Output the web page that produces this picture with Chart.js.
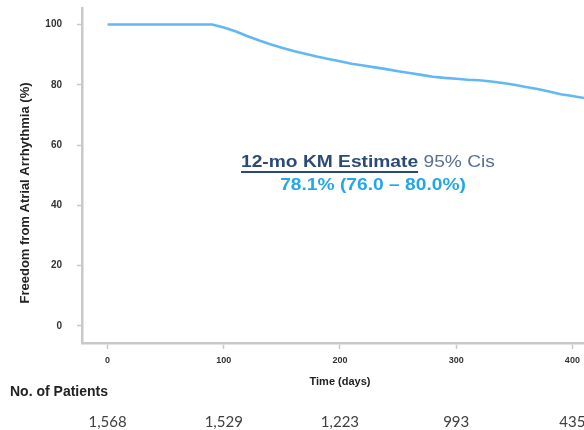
<!DOCTYPE html>
<html>
<head>
<meta charset="utf-8">
<script src="https://cdn.jsdelivr.net/npm/chart.js@4"></script>
<style>
  html, body { margin: 0; padding: 0; background: #fff; }
  #wrap { position: relative; width: 584px; height: 430px; overflow: hidden; }
</style>
</head>
<body>
<div id="wrap"><canvas id="km" width="584" height="430"></canvas></div>
<script>
//-----------------------------------------
//  DATA
//-----------------------------------------

const days = [0, 90, 100, 110, 120, 130, 140, 150, 160, 170, 180, 190, 200, 210, 220, 230, 240,
              250, 260, 270, 280, 290, 300, 310, 320, 330, 340, 350, 360, 370, 380, 390, 400, 410];
const freedom = [100, 100, 99.0, 97.8, 96.2, 94.8, 93.5, 92.3, 91.2, 90.3, 89.4, 88.6, 87.8, 87.0,
                 86.4, 85.8, 85.2, 84.5, 83.9, 83.3, 82.7, 82.3, 82.0, 81.7, 81.5, 81.1, 80.6,
                 80.0, 79.3, 78.6, 77.8, 76.9, 76.3, 75.6];

const xTicks = [0, 100, 200, 300, 400];
const yTicks = [0, 20, 40, 60, 80, 100];

// number at risk row
const riskDays = [0, 100, 200, 300, 400];
const riskCounts = ["1,568", "1,529", "1,223", "993", "435"];

const estimateLabel = "12-mo KM Estimate";
const ciLabel = "95% Cis";
const estimateValue = "78.1% (76.0 \u2013 80.0%)";

//-----------------------------------------
//  EXTRA TEXT (titles, annotation, risk table)
//-----------------------------------------

const axisGrey = "#c9c9c9";
const sans = "'Liberation Sans', Arial, sans-serif";

const textPlugin = {
    id: "kmText",
    afterDraw(chart) {
        const ctx = chart.ctx;
        const x = chart.scales.x;
        ctx.save();

        // y axis title
        ctx.save();
        ctx.translate(25, 193);
        ctx.rotate(-Math.PI / 2);
        ctx.font = "bold 13px " + sans;
        ctx.fillStyle = "#222";
        ctx.textAlign = "center";
        ctx.textBaseline = "middle";
        ctx.fillText("Freedom from Atrial Arrhythmia (%)", 0, 0);
        ctx.restore();

        // x axis title
        ctx.font = "bold 11px 'Liberation Sans Narrow', 'Arial Narrow', " + sans;
        ctx.fillStyle = "#222";
        ctx.textAlign = "center";
        ctx.textBaseline = "middle";
        ctx.fillText("Time (days)", 340, 382);

        // risk table
        ctx.font = "bold 14px " + sans;
        ctx.textAlign = "left";
        ctx.fillText("No. of Patients", 10, 392);

        ctx.font = "15px Lato, 'Open Sans', sans-serif";
        ctx.fillStyle = "#404040";
        ctx.textAlign = "center";
        riskDays.forEach((d, i) => {
            ctx.fillText(riskCounts[i], x.getPixelForValue(d), 422);
        });

        // annotation (source text is a bit stretched horizontally)
        const sx = 1.2;
        ctx.save();
        ctx.scale(sx, 1);
        ctx.textAlign = "left";
        ctx.textBaseline = "middle";
        ctx.font = "bold 16px " + sans;
        ctx.fillStyle = "#2c4a78";
        const x0 = 241;
        ctx.fillText(estimateLabel, x0 / sx, 163);
        const w1 = ctx.measureText(estimateLabel).width;
        ctx.font = "16px " + sans;
        ctx.fillStyle = "#5b6f8f";
        ctx.fillText(" " + ciLabel, x0 / sx + w1, 163);
        ctx.font = "bold 16px " + sans;
        ctx.fillStyle = "#22a8ea";
        ctx.textAlign = "center";
        ctx.fillText(estimateValue, 373 / sx, 186);
        ctx.restore();

        // underline
        ctx.strokeStyle = "#2c4a78";
        ctx.lineWidth = 1.8;
        ctx.beginPath();
        ctx.moveTo(x0, 172);
        ctx.lineTo(x0 + w1 * sx, 172);
        ctx.stroke();

        ctx.restore();
    }
};

//-----------------------------------------
//  CHART
//-----------------------------------------

const ctx = document.getElementById("km").getContext("2d");

new Chart(ctx, {
    type: "line",
    data: {
        datasets: [{
            data: days.map((d, i) => ({ x: d, y: freedom[i] })),
            borderColor: "#62b8f4",
            borderWidth: 2.6,
            pointRadius: 0,
            tension: 0,
            fill: false
        }]
    },
    options: {
        responsive: false,
        animation: false,
        devicePixelRatio: 1,
        layout: { padding: { top: 8, bottom: 42, left: 0, right: 0 } },
        plugins: {
            legend: { display: false },
            tooltip: { enabled: false }
        },
        scales: {
            x: {
                type: "linear",
                min: -22,
                max: 410,
                afterBuildTicks: s => { s.ticks = xTicks.map(v => ({ value: v })); },
                afterFit: s => { s.height = 45; s.paddingLeft = 0; s.paddingRight = 0; },
                grid: { drawOnChartArea: false, drawTicks: true, tickLength: 6, color: axisGrey, tickWidth: 1.5 },
                border: { color: axisGrey, width: 2.5 },
                ticks: {
                    padding: 6,
                    color: "#333",
                    maxRotation: 0,
                    font: { family: "'Liberation Sans Narrow', 'Arial Narrow', " + sans, size: 9, weight: "bold" }
                }
            },
            y: {
                min: -5.7,
                max: 105.5,
                afterBuildTicks: s => { s.ticks = yTicks.map(v => ({ value: v })); },
                afterFit: s => { s.width = 82; s.paddingTop = 0; s.paddingBottom = 0; },
                grid: { drawOnChartArea: false, drawTicks: true, tickLength: 5, color: axisGrey, tickWidth: 1.5 },
                border: { color: axisGrey, width: 2.5 },
                ticks: {
                    padding: 15,
                    color: "#333",
                    font: { family: sans, size: 10, weight: "bold" }
                }
            }
        }
    },
    plugins: [textPlugin]
});
</script>
</body>
</html>
